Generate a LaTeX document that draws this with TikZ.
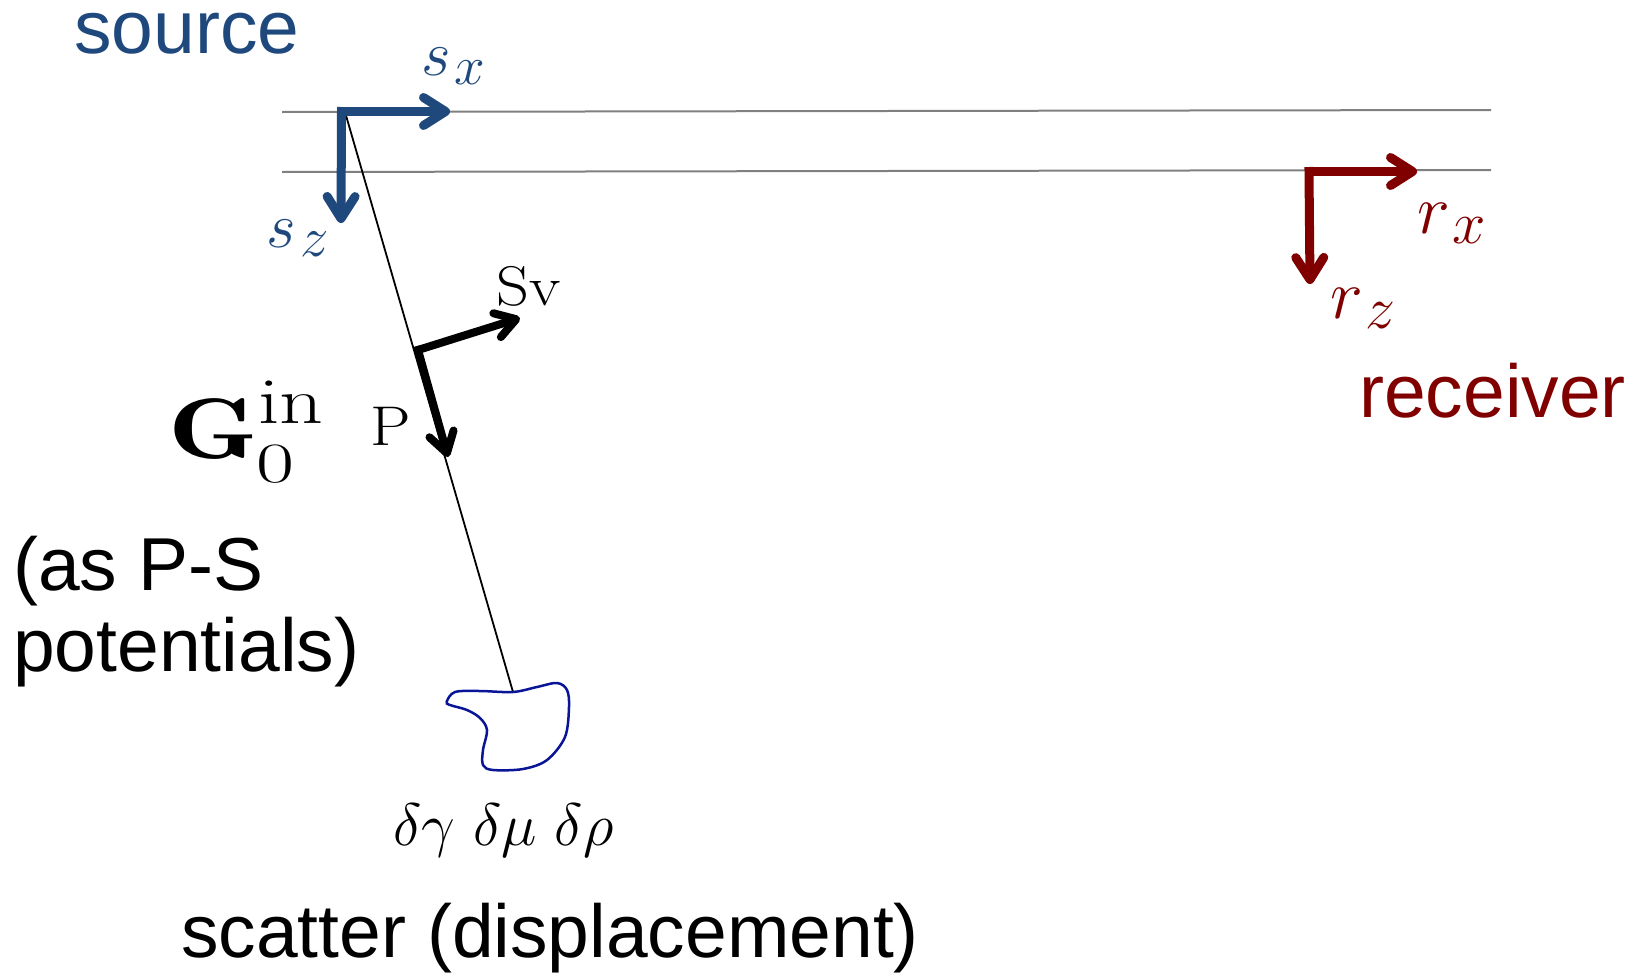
\RequirePackage{fix-cm}
\documentclass[tikz,border=0pt]{standalone}
\usepackage{fontspec}
\newfontfamily\arialf{Liberation Sans}
\usetikzlibrary{arrows.meta}
\definecolor{srcblue}{RGB}{31,73,125}
\definecolor{recred}{RGB}{128,0,0}
\definecolor{blobblue}{RGB}{10,20,150}
\definecolor{layergray}{RGB}{128,128,128}
\newcommand{\mylab}[5]{{\fontsize{#1}{#1}\selectfont$#3_{\hbox{\fontsize{#2}{#2}\selectfont\kern#5pt$#4$}}$}}
\tikzset{
  layerline/.style={draw=layergray, line width=2pt},
  axisarrow/.style={line width=9pt, line cap=rect, -{Straight Barb[length=22pt, width=28pt, round]}},
  wavearrow/.style={line width=8pt, line cap=rect, -{Straight Barb[length=20pt, width=25pt, round]}},
  ray/.style={draw=black, line width=1.8pt},
  sanslabel/.style={inner sep=0pt, anchor=base west, font=\arialf\fontsize{75}{80}\selectfont},
  mathlabel/.style={inner sep=0pt, anchor=base west},
}
\begin{document}
\begin{tikzpicture}[x=1pt,y=-1pt]
\useasboundingbox (0,0) rectangle (1636,977);

% layer lines
\coordinate (l1a) at (282,112);
\coordinate (l1b) at (1491,110);
\coordinate (l2a) at (282,172);
\coordinate (l2b) at (1491,170);
\draw[layerline] (l1a) -- (l1b);
\draw[layerline] (l2a) -- (l2b);

% ray and blob
\coordinate (raytop) at (345,112);
\coordinate (raybot) at (513,692);
\draw[ray] (raytop) -- (raybot);
\draw[blobblue, line width=2.5pt] plot[smooth cycle, tension=0.55] coordinates {
  (446.7,701.7) (455,692) (480,691) (513,692) (537,687) (557,683) (567,690)
  (569,707) (565,737) (547,760) (523,769) (493,770) (483,765) (483,750)
  (487,730) (480,718) (467,710) (450,705)};

% source axes
\coordinate (scorner) at (341.5,111.5);
\coordinate (sxtip) at (450,111.5);
\coordinate (sztip) at (341,223);
\draw[axisarrow, srcblue] (scorner) -- (sxtip);
\draw[axisarrow, srcblue] (scorner) -- (sztip);

% receiver axes
\coordinate (rcorner) at (1309,171.5);
\coordinate (rxtip) at (1417,171.5);
\coordinate (rztip) at (1310,284);
\draw[axisarrow, recred] (rcorner) -- (rxtip);
\draw[axisarrow, recred] (rcorner) -- (rztip);

% P and Sv arrows
\coordinate (pscorner) at (418,350);
\coordinate (svtip) at (520,318);
\coordinate (ptip) at (448,457);
\draw[wavearrow, black] (pscorner) -- (svtip);
\draw[wavearrow, black] (pscorner) -- (ptip);

% labels
\node[sanslabel, text=srcblue] (source) at (74,53) {source};
\node[sanslabel, text=recred] (receiver) at (1359,417) {receiver};
\node[sanslabel] (asps) at (13,590) {(as P-S};
\node[sanslabel] (potentials) at (13,671) {potentials)};
\node[sanslabel] (scatter) at (181,957) {scatter (displacement)};

\node[mathlabel, text=srcblue] (sx) at (421,75) {\mylab{64}{55}{s}{x}{4}};
\node[mathlabel, text=srcblue] (sz) at (266,247) {\mylab{64}{57}{s}{z}{5}};
\node[mathlabel, text=recred] (rx) at (1417,233) {\mylab{70}{60}{r}{x}{4}};
\node[mathlabel, text=recred] (rz) at (1330,318) {\mylab{70}{60}{r}{z}{4}};

\node[mathlabel, font=\fontsize{56}{56}\selectfont] (sv) at (496,305) {\scalebox{1.15}[1]{Sv}};
\node[mathlabel, font=\fontsize{56}{56}\selectfont] (plab) at (370,445) {\scalebox{1.15}[1]{P}};
\node[mathlabel, font=\fontsize{86}{86}\selectfont] (g0) at (168,458) {\scalebox{1.33}[1]{$\mathbf{G}$}};
\node[mathlabel, font=\fontsize{66}{66}\selectfont] (g0sup) at (258,423) {\scalebox{1.3}[1]{in}};
\node[mathlabel, font=\fontsize{57}{57}\selectfont] (g0sub) at (256,482) {\scalebox{1.45}[1]{0}};
\node[mathlabel, font=\fontsize{60}{60}\selectfont] (deltas) at (393,845) {$\delta\gamma\ \delta\mu\ \delta\rho$};
\end{tikzpicture}
\end{document}
